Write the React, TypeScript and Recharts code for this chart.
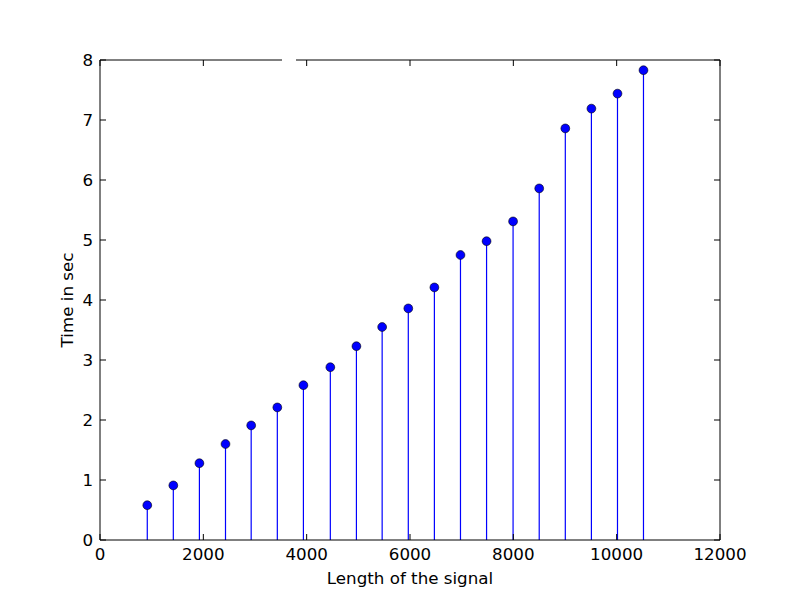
import React from 'react';
import { ScatterChart, Scatter, XAxis, YAxis, ErrorBar } from 'recharts';

const lengths = [915, 1419, 1924, 2429, 2926, 3432, 3937, 4458, 4963, 5461, 5967, 6472, 6977, 7482, 7995, 8501, 9006, 9511, 10016, 10519];
const times = [0.58, 0.91, 1.28, 1.6, 1.91, 2.21, 2.58, 2.88, 3.23, 3.55, 3.86, 4.21, 4.75, 4.98, 5.31, 5.86, 6.86, 7.19, 7.44, 7.83];
const xTicks = [0, 2000, 4000, 6000, 8000, 10000, 12000];
const yTicks = [0, 1, 2, 3, 4, 5, 6, 7, 8];

const data = lengths.map((x, i) => ({ x, y: times[i], err: [times[i], 0] }));

const FONT = 'DejaVu Sans';
const FS = 16.7;
const TICK = 6;

const BottomTick = (props: any) => {
  const { x, y, payload } = props;
  const axisY = y - 8;
  return (
    <g>
      <line x1={x} x2={x} y1={axisY} y2={axisY - TICK} stroke="#000" />
      <text x={x} y={y} dy={12} textAnchor="middle" fontFamily={FONT} fontSize={FS} fill="#000">
        {payload.value}
      </text>
    </g>
  );
};

const TopTick = (props: any) => {
  const { x, y } = props;
  const axisY = y + 8;
  return <line x1={x} x2={x} y1={axisY} y2={axisY + TICK} stroke="#000" />;
};

const LeftTick = (props: any) => {
  const { x, y, payload } = props;
  const axisX = x + 8;
  return (
    <g>
      <line x1={axisX} x2={axisX + TICK} y1={y} y2={y} stroke="#000" />
      <text x={axisX - 7} y={y} dy={6} textAnchor="end" fontFamily={FONT} fontSize={FS} fill="#000">
        {payload.value}
      </text>
    </g>
  );
};

const RightTick = (props: any) => {
  const { x, y } = props;
  const axisX = x - 8;
  return <line x1={axisX} x2={axisX - TICK} y1={y} y2={y} stroke="#000" />;
};

const Marker = (props: any) => {
  const { cx, cy } = props;
  return <circle cx={cx} cy={cy} r={4.4} fill="#0000ff" stroke="#000" strokeWidth={0.6} />;
};

export default function App() {
  return (
    <div style={{ position: 'absolute', left: 0, top: 0, width: 800, height: 600, background: '#fff' }}>
      <ScatterChart width={800} height={600} margin={{ top: 20, right: 40, left: 60, bottom: 20 }}>
        <XAxis
          xAxisId="b"
          type="number"
          dataKey="x"
          domain={[0, 12000]}
          ticks={xTicks}
          tickSize={6}
          tickMargin={2}
          tickLine={false}
          tick={<BottomTick />}
          axisLine={{ stroke: '#000' }}
          height={40}
          allowDataOverflow
        />
        <XAxis
          xAxisId="t"
          orientation="top"
          type="number"
          dataKey="x"
          domain={[0, 12000]}
          ticks={xTicks}
          tickSize={6}
          tickMargin={2}
          tickLine={false}
          tick={<TopTick />}
          axisLine={{ stroke: '#000' }}
          height={40}
          allowDataOverflow
        />
        <YAxis
          yAxisId="l"
          type="number"
          dataKey="y"
          domain={[0, 8]}
          ticks={yTicks}
          tickSize={6}
          tickMargin={2}
          tickLine={false}
          tick={<LeftTick />}
          axisLine={{ stroke: '#000' }}
          width={40}
          allowDataOverflow
        />
        <YAxis
          yAxisId="r"
          orientation="right"
          type="number"
          dataKey="y"
          domain={[0, 8]}
          ticks={yTicks}
          tickSize={6}
          tickMargin={2}
          tickLine={false}
          tick={<RightTick />}
          axisLine={{ stroke: '#000' }}
          width={40}
          allowDataOverflow
        />
        <Scatter
          data={data}
          xAxisId="b"
          yAxisId="l"
          shape={<Marker />}
          isAnimationActive={false}
        >
          <ErrorBar dataKey="err" direction="y" width={0} stroke="#0000ff" strokeWidth={1.2} isAnimationActive={false} />
        </Scatter>
      </ScatterChart>
      <div
        style={{
          position: 'absolute',
          left: 0,
          top: 568,
          width: 820,
          textAlign: 'center',
          fontFamily: FONT,
          fontSize: FS,
          lineHeight: '20px',
        }}
      >
        Length of the signal
      </div>
      <div
        style={{
          position: 'absolute',
          left: 67,
          top: 300,
          transform: 'translate(-50%, -50%) rotate(-90deg)',
          whiteSpace: 'nowrap',
          fontFamily: FONT,
          fontSize: FS,
          lineHeight: '20px',
        }}
      >
        Time in sec
      </div>
      <div style={{ position: 'absolute', left: 282, top: 58, width: 14, height: 4, background: '#fff' }} />
    </div>
  );
}
